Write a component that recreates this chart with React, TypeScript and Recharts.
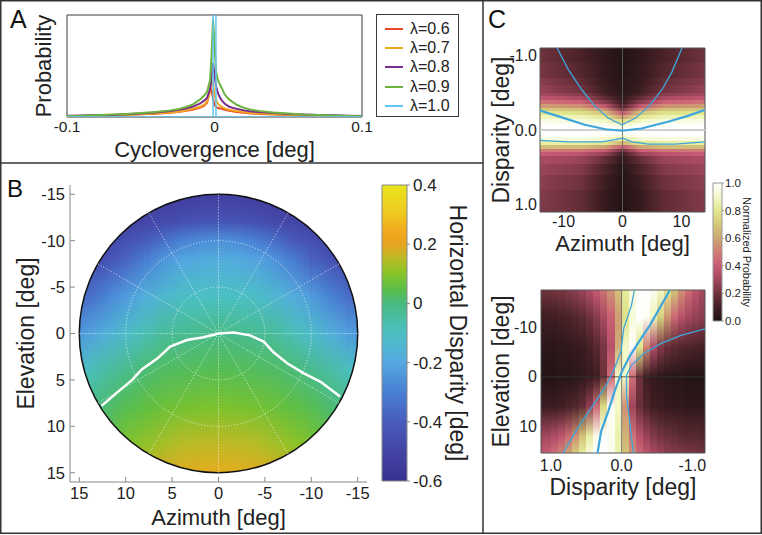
import React from 'react';
import {
  LineChart, Line, XAxis, YAxis, Legend, ReferenceArea, ReferenceLine,
  ScatterChart, Scatter, Label,
} from 'recharts';

const FONT = '"Liberation Sans", Arial, Helvetica, sans-serif';
const TXT = '#222';

// ---------------- Panel A data ----------------
const cycloX = [-0.1, -0.09, -0.08, -0.07, -0.06, -0.05, -0.04, -0.03, -0.025, -0.02, -0.015, -0.01, -0.007, -0.005, -0.003, -0.002, -0.001, 0, 0.001, 0.002, 0.003, 0.005, 0.007, 0.01, 0.015, 0.02, 0.025, 0.03, 0.04, 0.05, 0.06, 0.07, 0.08, 0.09, 0.1];
const lam06 = [0.008, 0.01, 0.013, 0.017, 0.021, 0.026, 0.033, 0.042, 0.05, 0.058, 0.072, 0.09, 0.11, 0.14, 0.28, 0.26, 0.18, 0.12, 0.1, 0.09, 0.085, 0.08, 0.07, 0.06, 0.05, 0.042, 0.035, 0.03, 0.024, 0.02, 0.015, 0.012, 0.01, 0.008, 0.006];
const lam07 = [0.008, 0.01, 0.013, 0.018, 0.022, 0.028, 0.035, 0.045, 0.052, 0.062, 0.08, 0.1, 0.12, 0.15, 0.25, 0.36, 0.33, 0.22, 0.17, 0.14, 0.12, 0.1, 0.085, 0.07, 0.058, 0.048, 0.04, 0.035, 0.027, 0.022, 0.017, 0.013, 0.01, 0.008, 0.006];
const lam08 = [0.012, 0.014, 0.016, 0.02, 0.027, 0.035, 0.045, 0.058, 0.068, 0.08, 0.1, 0.13, 0.16, 0.19, 0.27, 0.38, 0.53, 0.42, 0.3, 0.25, 0.21, 0.16, 0.13, 0.1, 0.08, 0.065, 0.055, 0.048, 0.038, 0.03, 0.024, 0.02, 0.016, 0.012, 0.01];
const lam09 = [0.01, 0.012, 0.018, 0.025, 0.03, 0.04, 0.05, 0.065, 0.075, 0.095, 0.12, 0.17, 0.21, 0.25, 0.36, 0.6, 0.96, 0.72, 0.45, 0.38, 0.34, 0.28, 0.22, 0.17, 0.12, 0.09, 0.07, 0.06, 0.045, 0.035, 0.025, 0.02, 0.015, 0.01, 0.008];
const lam10 = [0, 0, 0, 0, 0, 0, 0, 0, 0, 0, 0, 0, 0, 0, 0, 0, 0, 50, 0, 0, 0, 0, 0, 0, 0, 0, 0, 0, 0, 0, 0, 0, 0, 0, 0];
const aSeriesKeys = ['l06', 'l07', 'l08', 'l09', 'l10'];
const aSeriesNames = ['λ=0.6', 'λ=0.7', 'λ=0.8', 'λ=0.9', 'λ=1.0'];
const aSeriesColors = ['#e8472b', '#f2a81d', '#7a2c8f', '#6cb33f', '#62c6f2'];
const aSeriesWidths = [2, 2, 2, 2, 1.5];
const aTicks = [-0.1, 0, 0.1];
const aData = cycloX.map((x, i) => ({ x, l06: lam06[i], l07: lam07[i], l08: lam08[i], l09: lam09[i], l10: lam10[i] }));

// ---------------- Panel B data ----------------
const bAzCols = [-16, -14, -12, -10, -8, -6, -4, -2, 0, 2, 4, 6, 8, 10, 12, 14, 16];
const bElStops = [-16, -14, -12, -10, -8, -4, 0, 4, 8, 12, 16];
const bDisparity = [
  [-0.58, -0.57, -0.55, -0.53, -0.50, -0.39, -0.26, -0.13, -0.04, 0.00, 0.05],
  [-0.58, -0.56, -0.54, -0.51, -0.48, -0.35, -0.22, -0.09, -0.01, 0.03, 0.08],
  [-0.58, -0.55, -0.53, -0.49, -0.44, -0.29, -0.17, -0.05, 0.015, 0.06, 0.12],
  [-0.57, -0.54, -0.51, -0.45, -0.38, -0.23, -0.12, -0.02, 0.04, 0.09, 0.15],
  [-0.56, -0.53, -0.49, -0.41, -0.31, -0.18, -0.08, 0.01, 0.055, 0.11, 0.18],
  [-0.55, -0.52, -0.47, -0.35, -0.25, -0.14, -0.04, 0.025, 0.07, 0.13, 0.20],
  [-0.54, -0.51, -0.45, -0.30, -0.21, -0.11, -0.03, 0.03, 0.08, 0.15, 0.22],
  [-0.53, -0.50, -0.43, -0.27, -0.19, -0.10, -0.02, 0.035, 0.085, 0.155, 0.23],
  [-0.53, -0.50, -0.42, -0.26, -0.18, -0.10, -0.01, 0.04, 0.09, 0.16, 0.24],
  [-0.53, -0.50, -0.43, -0.27, -0.19, -0.10, -0.02, 0.035, 0.085, 0.155, 0.23],
  [-0.54, -0.51, -0.45, -0.30, -0.21, -0.11, -0.03, 0.03, 0.08, 0.15, 0.22],
  [-0.55, -0.52, -0.47, -0.35, -0.25, -0.14, -0.04, 0.025, 0.07, 0.13, 0.20],
  [-0.56, -0.53, -0.49, -0.41, -0.31, -0.18, -0.08, 0.01, 0.055, 0.11, 0.18],
  [-0.57, -0.54, -0.51, -0.45, -0.38, -0.23, -0.12, -0.02, 0.04, 0.09, 0.15],
  [-0.58, -0.55, -0.53, -0.49, -0.44, -0.29, -0.17, -0.05, 0.015, 0.06, 0.12],
  [-0.58, -0.56, -0.54, -0.51, -0.48, -0.35, -0.22, -0.09, -0.01, 0.03, 0.08],
  [-0.58, -0.57, -0.55, -0.53, -0.50, -0.39, -0.26, -0.13, -0.04, 0.00, 0.05],
];
const bContour = [
  { x: 12.6, y: 7.8 }, { x: 11.1, y: 6.5 }, { x: 9.3, y: 5.0 }, { x: 8.3, y: 3.9 }, { x: 6.6, y: 2.7 },
  { x: 5.2, y: 1.4 }, { x: 3.4, y: 0.7 }, { x: 1.6, y: 0.4 }, { x: 0, y: 0 }, { x: -1.6, y: -0.1 },
  { x: -3.4, y: 0.2 }, { x: -4.9, y: 0.9 }, { x: -5.9, y: 2.0 }, { x: -7.4, y: 3.2 }, { x: -9.2, y: 4.3 },
  { x: -11.0, y: 5.2 }, { x: -13.1, y: 6.8 },
];
const bTicks = [-15, -10, -5, 0, 5, 10, 15];
const bCbarTicks = [-0.6, -0.4, -0.2, 0, 0.2, 0.4];
const bGridRadii = [5, 10];
const bSpokeAngles = [0, 30, 60, 90, 120, 150, 180, 210, 240, 270, 300, 330];
const bRadius = 15;

// ---------------- Panel C (top) data ----------------
const cTopAzStops = [-14, -7, -3, 0, 3, 7, 14];
const cTopRowEdges = [-1.1, -0.9, -0.7, -0.6, -0.5, -0.45, -0.4, -0.35, -0.3, -0.25, -0.2, -0.15, -0.1, -0.05, 0, 0.05, 0.1, 0.15, 0.2, 0.25, 0.3, 0.35, 0.45, 0.6, 0.8, 1.1];
const cTopValues = [
  [0.2, 0.12, 0.05, 0.02, 0.05, 0.12, 0.2],
  [0.22, 0.14, 0.06, 0.02, 0.06, 0.14, 0.22],
  [0.25, 0.17, 0.07, 0.03, 0.07, 0.17, 0.25],
  [0.28, 0.2, 0.09, 0.03, 0.09, 0.2, 0.28],
  [0.32, 0.25, 0.12, 0.04, 0.12, 0.25, 0.32],
  [0.38, 0.32, 0.17, 0.05, 0.17, 0.32, 0.38],
  [0.47, 0.42, 0.25, 0.08, 0.25, 0.42, 0.47],
  [0.58, 0.54, 0.38, 0.13, 0.38, 0.54, 0.58],
  [0.7, 0.67, 0.54, 0.24, 0.54, 0.67, 0.7],
  [0.8, 0.78, 0.68, 0.4, 0.68, 0.78, 0.8],
  [0.88, 0.87, 0.8, 0.58, 0.8, 0.87, 0.88],
  [0.95, 0.94, 0.9, 0.76, 0.9, 0.94, 0.95],
  [0.99, 0.99, 0.97, 0.9, 0.97, 0.99, 0.99],
  [1, 1, 1, 0.97, 1, 1, 1],
  [1, 1, 1, 0.99, 1, 1, 1],
  [0.99, 0.99, 0.98, 0.94, 0.98, 0.99, 0.99],
  [0.94, 0.94, 0.92, 0.84, 0.92, 0.94, 0.94],
  [0.84, 0.84, 0.8, 0.64, 0.8, 0.84, 0.84],
  [0.67, 0.66, 0.6, 0.4, 0.6, 0.66, 0.67],
  [0.5, 0.48, 0.41, 0.21, 0.41, 0.48, 0.5],
  [0.4, 0.37, 0.28, 0.1, 0.28, 0.37, 0.4],
  [0.33, 0.29, 0.18, 0.05, 0.18, 0.29, 0.33],
  [0.29, 0.24, 0.12, 0.03, 0.12, 0.24, 0.29],
  [0.26, 0.2, 0.09, 0.02, 0.09, 0.2, 0.26],
  [0.24, 0.17, 0.07, 0.02, 0.07, 0.17, 0.24],
];
const cTopLineUpper = [
  { x: -11.1, y: -1.1 }, { x: -9.2, y: -0.81 }, { x: -6.9, y: -0.54 }, { x: -4.6, y: -0.31 }, { x: -2.4, y: -0.16 },
  { x: -0.1, y: -0.07 }, { x: 2.2, y: -0.16 }, { x: 4.4, y: -0.31 }, { x: 6.7, y: -0.54 }, { x: 8.4, y: -0.78 }, { x: 10.1, y: -1.1 },
];
const cTopLineMid = [
  { x: -14, y: -0.26 }, { x: -10.3, y: -0.17 }, { x: -6.4, y: -0.07 }, { x: -2.9, y: -0.01 }, { x: -0.1, y: 0.01 },
  { x: 3.2, y: -0.02 }, { x: 7.7, y: -0.11 }, { x: 11.1, y: -0.19 }, { x: 14, y: -0.27 },
];
const cTopLineLower = [
  { x: -14, y: 0.14 }, { x: -9.2, y: 0.16 }, { x: -3.5, y: 0.16 }, { x: -1.2, y: 0.13 }, { x: 0, y: 0.11 },
  { x: 1.6, y: 0.16 }, { x: 4.4, y: 0.19 }, { x: 8.9, y: 0.19 }, { x: 14, y: 0.16 },
];
const cTopYTicks = [-1, 0, 1];
const cTopXTicks = [-10, 0, 10];

// ---------------- Panel C (bottom) data ----------------
const cBotDispCols = [1.15, 1.05, 0.95, 0.85, 0.75, 0.65, 0.55, 0.45, 0.35, 0.25, 0.15, 0.05, -0.05, -0.15, -0.25, -0.35, -0.45, -0.55, -0.65, -0.75, -0.85, -0.95, -1.05, -1.15];
const cBotElStops = [-17.4, -12, -6, 0, 6, 12, 15.3];
const cBotValues = [
  [0.20, 0.20, 0.21, 0.22, 0.24, 0.26, 0.29, 0.34, 0.40, 0.47, 0.56, 0.68, 0.82, 0.93, 0.99, 1.00, 0.97, 0.90, 0.80, 0.68, 0.55, 0.45, 0.37, 0.31],
  [0.09, 0.10, 0.10, 0.11, 0.12, 0.14, 0.16, 0.20, 0.25, 0.32, 0.42, 0.58, 0.78, 0.93, 1.00, 0.98, 0.88, 0.72, 0.56, 0.44, 0.36, 0.31, 0.28, 0.26],
  [0.04, 0.04, 0.04, 0.05, 0.06, 0.07, 0.08, 0.11, 0.15, 0.22, 0.36, 0.62, 0.90, 0.99, 0.80, 0.52, 0.34, 0.24, 0.19, 0.16, 0.14, 0.13, 0.12, 0.11],
  [0.02, 0.02, 0.02, 0.03, 0.03, 0.04, 0.05, 0.07, 0.10, 0.20, 0.45, 0.90, 0.90, 0.45, 0.20, 0.10, 0.07, 0.05, 0.04, 0.03, 0.03, 0.02, 0.02, 0.02],
  [0.08, 0.09, 0.09, 0.10, 0.12, 0.14, 0.18, 0.27, 0.45, 0.75, 0.98, 0.90, 0.55, 0.30, 0.19, 0.13, 0.10, 0.08, 0.07, 0.06, 0.06, 0.05, 0.05, 0.05],
  [0.30, 0.31, 0.34, 0.38, 0.45, 0.55, 0.68, 0.84, 0.96, 1.00, 0.97, 0.85, 0.64, 0.47, 0.36, 0.29, 0.24, 0.21, 0.19, 0.18, 0.16, 0.15, 0.15, 0.14],
  [0.38, 0.41, 0.46, 0.52, 0.60, 0.70, 0.82, 0.93, 0.99, 1.00, 0.96, 0.86, 0.68, 0.54, 0.44, 0.37, 0.32, 0.29, 0.26, 0.24, 0.23, 0.22, 0.21, 0.20],
];
const cBotLineMid = [
  { x: -0.68, y: -17.3 }, { x: -0.56, y: -14.3 }, { x: -0.4, y: -10.3 }, { x: -0.23, y: -6.7 }, { x: -0.11, y: -4 },
  { x: 0, y: -0.9 }, { x: 0.1, y: 3 }, { x: 0.19, y: 7 }, { x: 0.29, y: 11 }, { x: 0.34, y: 15.3 },
];
const cBotLineLeft = [
  { x: -0.18, y: -17.3 }, { x: -0.14, y: -14.3 }, { x: -0.03, y: -9.7 }, { x: 0.01, y: -5 }, { x: 0.12, y: -1 },
  { x: 0.24, y: 2.3 }, { x: 0.43, y: 6.3 }, { x: 0.62, y: 10.3 }, { x: 0.83, y: 15.3 },
];
const cBotLineRight = [
  { x: -1.18, y: -9.6 }, { x: -0.84, y: -8.3 }, { x: -0.56, y: -6.7 }, { x: -0.32, y: -4.7 }, { x: -0.14, y: -2.3 },
  { x: -0.07, y: -0.3 }, { x: -0.07, y: 3.7 }, { x: -0.11, y: 8.3 }, { x: -0.14, y: 12.3 }, { x: -0.17, y: 15.3 },
];
const cBotXTicks = [1, 0, -1];
const cBotYTicks = [-10, 0, 10];
const cBarTicks = [0, 0.2, 0.4, 0.6, 0.8, 1];

// ---------------- colour maps (style) ----------------
const parulaStops = [
  [-0.6, 55, 50, 145], [-0.5, 68, 68, 165], [-0.4, 72, 92, 188], [-0.3, 72, 128, 212], [-0.2, 85, 168, 225],
  [-0.1, 75, 192, 195], [0, 72, 186, 128], [0.05, 92, 190, 70], [0.1, 135, 196, 40], [0.15, 185, 188, 38],
  [0.2, 232, 163, 32], [0.25, 242, 172, 30], [0.3, 240, 200, 32], [0.4, 232, 228, 28],
];
const pinkStops = [
  [0, 28, 18, 18], [0.1, 65, 30, 35], [0.2, 110, 50, 60], [0.3, 160, 70, 92], [0.4, 200, 90, 116],
  [0.5, 208, 125, 118], [0.6, 205, 165, 115], [0.7, 212, 202, 122], [0.8, 226, 232, 142], [0.9, 243, 248, 200], [1, 255, 255, 255],
];
const cmap = (stops: number[][], v: number) => {
  const rgb = (a: number[]) => `rgb(${Math.round(a[1])},${Math.round(a[2])},${Math.round(a[3])})`;
  if (v <= stops[0][0]) return rgb(stops[0]);
  for (let i = 1; i < stops.length; i++) {
    if (v <= stops[i][0]) {
      const a = stops[i - 1];
      const b = stops[i];
      const t = (v - a[0]) / (b[0] - a[0]);
      return rgb([0, a[1] + (b[1] - a[1]) * t, a[2] + (b[2] - a[2]) * t, a[3] + (b[3] - a[3]) * t]);
    }
  }
  return rgb(stops[stops.length - 1]);
};

// ---------------- shapes ----------------
const noDot = () => <g />;
const cellShape = (props: any) => (
  <rect x={props.x} y={props.y} width={props.width} height={props.height} fill={props.fill}
    stroke="none" shapeRendering="crispEdges" clipPath={props.clipPath} />
);
const circleCellShape = (props: any) => (
  <rect x={props.x} y={props.y} width={props.width} height={props.height} fill={props.fill}
    stroke="none" shapeRendering="crispEdges" clipPath="url(#bClipCircle)" />
);
const circleRampShape = (props: any) => (
  <rect x={props.x} y={props.y} width={props.width} height={props.height} fill={props.fill}
    stroke="none" shapeRendering="crispEdges" clipPath="url(#bClipCircle)" mask="url(#bRampMask)" />
);
const clipDefShape = (props: any) => (
  <defs>
    <clipPath id="bClipCircle">
      <ellipse cx={props.x + props.width / 2} cy={props.y + props.height / 2} rx={props.width / 2} ry={props.height / 2} />
    </clipPath>
  </defs>
);
const ellipseShape = (stroke: string, sw: number, dash?: string) => (props: any) => (
  <ellipse cx={props.x + props.width / 2} cy={props.y + props.height / 2} rx={props.width / 2} ry={props.height / 2}
    fill="none" stroke={stroke} strokeWidth={sw} strokeDasharray={dash} />
);

const Gradients = () => {
  const bEl0 = bElStops[0];
  const bEl1 = bElStops[bElStops.length - 1];
  const cEl0 = cBotElStops[0];
  const cEl1 = cBotElStops[cBotElStops.length - 1];
  const az0 = cTopAzStops[0];
  const az1 = cTopAzStops[cTopAzStops.length - 1];
  const parRev = [...parulaStops].reverse();
  const pinkRev = [...pinkStops].reverse();
  return (
    <svg width={0} height={0} style={{ position: 'absolute' }}>
      <defs>
        {bAzCols.map((az, i) => (
          <linearGradient key={`b${i}`} id={`bcol${i}`} x1="0" y1="0" x2="0" y2="1">
            {bElStops.map((el, k) => (
              <stop key={k} offset={(el - bEl0) / (bEl1 - bEl0)} stopColor={cmap(parulaStops, bDisparity[i][k])} />
            ))}
          </linearGradient>
        ))}
        <linearGradient id="bRampGrad" x1="0" y1="0" x2="1" y2="0">
          <stop offset={0} stopColor="#fff" />
          <stop offset={1} stopColor="#000" />
        </linearGradient>
        <mask id="bRampMask" maskUnits="objectBoundingBox" maskContentUnits="objectBoundingBox" x="0" y="0" width="1" height="1">
          <rect x={0} y={0} width={1} height={1} fill="url(#bRampGrad)" />
        </mask>
        <linearGradient id="bbar" x1="0" y1="0" x2="0" y2="1">
          {parRev.map((s, k) => (
            <stop key={k} offset={(0.4 - s[0]) / 1.0} stopColor={cmap(parulaStops, s[0])} />
          ))}
        </linearGradient>
        {cTopValues.map((row, i) => (
          <linearGradient key={`ct${i}`} id={`ctop${i}`} x1="0" y1="0" x2="1" y2="0">
            {cTopAzStops.map((az, k) => (
              <stop key={k} offset={(az - az0) / (az1 - az0)} stopColor={cmap(pinkStops, row[k])} />
            ))}
          </linearGradient>
        ))}
        {cBotDispCols.map((d, j) => (
          <linearGradient key={`cb${j}`} id={`cbot${j}`} x1="0" y1="0" x2="0" y2="1">
            {cBotElStops.map((el, k) => (
              <stop key={k} offset={(el - cEl0) / (cEl1 - cEl0)} stopColor={cmap(pinkStops, cBotValues[k][j])} />
            ))}
          </linearGradient>
        ))}
        <linearGradient id="cbar" x1="0" y1="0" x2="0" y2="1">
          {pinkRev.map((s, k) => (
            <stop key={k} offset={1 - s[0]} stopColor={cmap(pinkStops, s[0])} />
          ))}
        </linearGradient>
      </defs>
    </svg>
  );
};

// ---------------- panels ----------------
const PanelA = () => (
  <div style={{ position: 'absolute', left: 0, top: 0 }}>
    <LineChart width={483} height={163} data={aData} margin={{ top: 15, right: 121, bottom: 0, left: 20 }}>
      <XAxis dataKey="x" type="number" domain={[-0.1, 0.1]} allowDataOverflow ticks={aTicks} interval={0}
        tickLine={false} axisLine={false} tickSize={0} tickMargin={4} height={46} tick={{ fontSize: 15.5, fill: TXT }}>
        <Label value="Cyclovergence [deg]" position="insideBottom" offset={6} style={{ fontSize: 22, fill: TXT }} />
      </XAxis>
      <YAxis type="number" domain={[0, 1]} allowDataOverflow tick={false} tickLine={false} axisLine={false} width={47}>
        <Label value="Probability" angle={-90} position="insideLeft" offset={23} style={{ fontSize: 22, fill: TXT, textAnchor: 'middle' }} />
      </YAxis>
      {aSeriesKeys.map((k, i) => (
        <Line key={k} dataKey={k} name={aSeriesNames[i]} stroke={aSeriesColors[i]} strokeWidth={aSeriesWidths[i]}
          dot={false} type="linear" isAnimationActive={false} />
      ))}
      <ReferenceArea x1={-0.1} x2={0.1} y1={0} y2={1} fill="none" stroke="#3a3a3a" strokeWidth={1} ifOverflow="visible" />
      <Legend layout="vertical" align="center" verticalAlign="middle"
        wrapperStyle={{ position: 'absolute', left: 376, top: 14, width: 83, height: 103 }}
        content={() => (
          <div style={{ boxSizing: 'border-box', width: 83, height: 103, border: '1px solid #3a3a3a', paddingTop: 4.5, background: '#fff' }}>
            {aSeriesNames.map((n, i) => (
              <div key={n} style={{ display: 'flex', alignItems: 'center', height: 19.2 }}>
                <span style={{ display: 'inline-block', width: 18, height: 0, borderTop: `2.5px solid ${aSeriesColors[i]}`, marginLeft: 8, marginRight: 7 }} />
                <span style={{ fontSize: 16, color: TXT, lineHeight: '16px' }}>{n}</span>
              </div>
            ))}
          </div>
        )}
      />
    </LineChart>
  </div>
);

const PanelB = () => (
  <div style={{ position: 'absolute', left: 0, top: 163 }}>
    <ScatterChart width={380} height={372} margin={{ top: 22, right: 13, bottom: 0, left: 0 }}>
      <XAxis dataKey="x" type="number" domain={[-16, 16]} allowDataOverflow reversed ticks={bTicks} interval={0}
        height={53} tickSize={-5} tickMargin={10} tick={{ fontSize: 16.5, fill: TXT }}
        axisLine={{ stroke: '#888' }} tickLine={{ stroke: '#888' }}>
        <Label value="Azimuth [deg]" position="insideBottom" offset={10} style={{ fontSize: 22, fill: TXT }} />
      </XAxis>
      <XAxis xAxisId="t" orientation="top" dataKey="x" type="number" domain={[-16, 16]} allowDataOverflow reversed
        ticks={bTicks} interval={0} height={0} tickSize={-5} tickFormatter={() => ''}
        axisLine={{ stroke: '#888' }} tickLine={{ stroke: '#888' }} />
      <YAxis dataKey="y" type="number" domain={[-16, 16]} allowDataOverflow reversed ticks={bTicks} interval={0}
        width={70} tickSize={-5} tickMargin={10} tick={{ fontSize: 16.5, fill: TXT }}
        axisLine={{ stroke: '#888' }} tickLine={{ stroke: '#888' }}>
        <Label value="Elevation [deg]" angle={-90} position="insideLeft" offset={26} style={{ fontSize: 23, fill: TXT, textAnchor: 'middle' }} />
      </YAxis>
      <YAxis yAxisId="r" orientation="right" dataKey="y" type="number" domain={[-16, 16]} allowDataOverflow reversed
        ticks={bTicks} interval={0} width={0} tickSize={-5} tickFormatter={() => ''}
        axisLine={{ stroke: '#888' }} tickLine={{ stroke: '#888' }} />
      <ReferenceArea x1={-bRadius} x2={bRadius} y1={-bRadius} y2={bRadius} ifOverflow="visible" shape={clipDefShape} />
      {bAzCols.slice(0, -1).map((az, i) => (
        <ReferenceArea key={`bb${i}`} x1={az} x2={bAzCols[i + 1]} y1={bElStops[0]} y2={bElStops[bElStops.length - 1]}
          ifOverflow="visible" fill={`url(#bcol${i})`} shape={circleCellShape} />
      ))}
      {bAzCols.slice(1).map((az, i) => (
        <ReferenceArea key={`bo${i}`} x1={bAzCols[i]} x2={az} y1={bElStops[0]} y2={bElStops[bElStops.length - 1]}
          ifOverflow="visible" fill={`url(#bcol${i + 1})`} shape={circleRampShape} />
      ))}
      {bGridRadii.map((r) => (
        <ReferenceArea key={`gr${r}`} x1={-r} x2={r} y1={-r} y2={r} ifOverflow="visible"
          shape={ellipseShape('rgba(255,255,255,0.75)', 1, '1 2')} />
      ))}
      {bSpokeAngles.map((a) => (
        <ReferenceLine key={`sp${a}`} segment={[{ x: 0, y: 0 }, { x: bRadius * Math.cos((a * Math.PI) / 180), y: bRadius * Math.sin((a * Math.PI) / 180) }]}
          stroke="rgba(255,255,255,0.75)" strokeWidth={1} strokeDasharray="1 2" ifOverflow="visible" />
      ))}
      <Scatter data={bContour} line={{ stroke: '#ffffff', strokeWidth: 2.5 }} lineType="joint" shape={noDot} isAnimationActive={false} />
      <ReferenceArea x1={-bRadius} x2={bRadius} y1={-bRadius} y2={bRadius} ifOverflow="visible" shape={ellipseShape('#111', 1.5)} />
    </ScatterChart>
  </div>
);

const PanelBBar = () => (
  <div style={{ position: 'absolute', left: 340, top: 163 }}>
    <ScatterChart width={143} height={372} margin={{ top: 22, right: 0, bottom: 54, left: 42 }}>
      <XAxis dataKey="x" type="number" domain={[0, 1]} allowDataOverflow hide />
      <YAxis dataKey="y" type="number" orientation="right" domain={[-0.6, 0.4]} allowDataOverflow ticks={bCbarTicks} interval={0}
        width={76} tickSize={3} tickMargin={3} axisLine={false} tickLine={{ stroke: '#888' }} tick={{ fontSize: 17, fill: TXT }}>
        <Label value="Horizontal Disparity [deg]" angle={90} position="insideRight" offset={25} style={{ fontSize: 23, fill: TXT, textAnchor: 'middle' }} />
      </YAxis>
      <ReferenceArea x1={0} x2={1} y1={-0.6} y2={0.4} ifOverflow="visible" fill="url(#bbar)" fillOpacity={1} stroke="#888" strokeWidth={1} />
    </ScatterChart>
  </div>
);

const PanelCTop = () => (
  <div style={{ position: 'absolute', left: 483, top: 0 }}>
    <ScatterChart width={230} height={270} margin={{ top: 48, right: 8, bottom: 0, left: 0 }}>
      <XAxis dataKey="x" type="number" domain={[-14, 14]} allowDataOverflow ticks={cTopXTicks} interval={0}
        height={58} tickSize={0} tickMargin={4} axisLine={false} tickLine={false} tick={{ fontSize: 16, fill: TXT }}>
        <Label value="Azimuth [deg]" position="insideBottom" offset={19} style={{ fontSize: 22, fill: TXT }} />
      </XAxis>
      <YAxis dataKey="y" type="number" domain={[-1.1, 1.1]} allowDataOverflow reversed ticks={cTopYTicks} interval={0}
        width={57} tickSize={0} tickMargin={3} axisLine={false} tickLine={false} tick={{ fontSize: 16, fill: TXT }}
        tickFormatter={(v: number) => v.toFixed(1)}>
        <Label value="Disparity [deg]" angle={-90} position="insideLeft" offset={18} style={{ fontSize: 23, fill: TXT, textAnchor: 'middle' }} />
      </YAxis>
      {cTopValues.map((row, i) => (
        <ReferenceArea key={`ct${i}`} x1={cTopAzStops[0]} x2={cTopAzStops[cTopAzStops.length - 1]}
          y1={cTopRowEdges[i]} y2={cTopRowEdges[i + 1]} ifOverflow="hidden" fill={`url(#ctop${i})`} shape={cellShape} />
      ))}
      <ReferenceLine y={0} stroke="#cfcfcf" strokeWidth={2} />
      <ReferenceLine x={0} stroke="#666" strokeOpacity={0.8} strokeWidth={1} />
      <Scatter data={cTopLineUpper} line={{ stroke: '#3ea6dd', strokeWidth: 1.3 }} lineType="joint" shape={noDot} isAnimationActive={false} />
      <Scatter data={cTopLineMid} line={{ stroke: '#3ea6dd', strokeWidth: 2.2 }} lineType="joint" shape={noDot} isAnimationActive={false} />
      <Scatter data={cTopLineLower} line={{ stroke: '#3ea6dd', strokeWidth: 1.3 }} lineType="joint" shape={noDot} isAnimationActive={false} />
      <ReferenceArea x1={-14} x2={14} y1={-1.1} y2={1.1} ifOverflow="visible" fill="none" stroke="#555" strokeWidth={1} />
    </ScatterChart>
  </div>
);

const PanelCBar = () => (
  <div style={{ position: 'absolute', left: 705, top: 163 }}>
    <ScatterChart width={57} height={170} margin={{ top: 20, right: 0, bottom: 12, left: 8 }}>
      <XAxis dataKey="x" type="number" domain={[0, 1]} allowDataOverflow hide />
      <YAxis dataKey="y" type="number" orientation="right" domain={[0, 1]} allowDataOverflow ticks={cBarTicks} interval={0}
        width={40} tickSize={2} tickMargin={1} axisLine={false} tickLine={{ stroke: '#999' }} tick={{ fontSize: 11.5, fill: TXT }}
        tickFormatter={(v: number) => v.toFixed(1)}>
        <Label value="Normalized Probability" angle={90} position="insideRight" offset={15.5} style={{ fontSize: 11, fill: TXT, textAnchor: 'middle' }} />
      </YAxis>
      <ReferenceArea x1={0} x2={1} y1={0} y2={1} ifOverflow="visible" fill="url(#cbar)" fillOpacity={1} stroke="#999" strokeWidth={1} />
    </ScatterChart>
  </div>
);

const PanelCBottom = () => (
  <div style={{ position: 'absolute', left: 483, top: 270 }}>
    <ScatterChart width={230} height={265} margin={{ top: 20, right: 8, bottom: 0, left: 0 }}>
      <XAxis dataKey="x" type="number" domain={[-1.18, 1.14]} allowDataOverflow reversed ticks={cBotXTicks} interval={0}
        height={82} tickSize={0} tickMargin={7} axisLine={false} tickLine={false} tick={{ fontSize: 16, fill: TXT }}
        tickFormatter={(v: number) => v.toFixed(1)}>
        <Label value="Disparity [deg]" position="insideBottom" offset={40} style={{ fontSize: 23, fill: TXT }} />
      </XAxis>
      <YAxis dataKey="y" type="number" domain={[-17.4, 15.3]} allowDataOverflow reversed ticks={cBotYTicks} interval={0}
        width={58} tickSize={0} tickMargin={4} axisLine={false} tickLine={false} tick={{ fontSize: 16, fill: TXT }}>
        <Label value="Elevation [deg]" angle={-90} position="insideLeft" offset={18} style={{ fontSize: 23, fill: TXT, textAnchor: 'middle' }} />
      </YAxis>
      {cBotDispCols.map((d, j) => (
        <ReferenceArea key={`cb${j}`} x1={d - 0.05} x2={d + 0.05} y1={cBotElStops[0]} y2={cBotElStops[cBotElStops.length - 1]}
          ifOverflow="hidden" fill={`url(#cbot${j})`} shape={cellShape} />
      ))}
      <ReferenceLine x={0} stroke="#777" strokeOpacity={0.9} strokeWidth={1} />
      <ReferenceLine y={0} stroke="#333" strokeOpacity={0.55} strokeWidth={1.5} />
      <Scatter data={cBotLineLeft} line={{ stroke: '#3ea6dd', strokeWidth: 1.3 }} lineType="joint" shape={noDot} isAnimationActive={false} />
      <Scatter data={cBotLineMid} line={{ stroke: '#3ea6dd', strokeWidth: 2.2 }} lineType="joint" shape={noDot} isAnimationActive={false} />
      <Scatter data={cBotLineRight} line={{ stroke: '#3ea6dd', strokeWidth: 1.3 }} lineType="joint" shape={noDot} isAnimationActive={false} />
      <ReferenceArea x1={-1.18} x2={1.14} y1={-17.4} y2={15.3} ifOverflow="visible" fill="none" stroke="#555" strokeWidth={1} />
    </ScatterChart>
  </div>
);

const Frame = () => (
  <svg width={762} height={535} style={{ position: 'absolute', left: 0, top: 0, pointerEvents: 'none' }}>
    <rect x={0.75} y={0.75} width={760.5} height={532.5} fill="none" stroke="#333" strokeWidth={1.5} />
    <line x1={483} y1={0} x2={483} y2={533} stroke="#333" strokeWidth={1.5} />
    <line x1={0} y1={163} x2={483} y2={163} stroke="#333" strokeWidth={1.5} />
    <text x={10} y={28} fontSize={25} fill="#111" fontFamily={FONT}>A</text>
    <text x={7} y={197} fontSize={24} fill="#111" fontFamily={FONT}>B</text>
    <text x={488} y={28} fontSize={25} fill="#111" fontFamily={FONT}>C</text>
  </svg>
);

export default function App() {
  return (
    <div style={{ position: 'absolute', left: 0, top: 0, width: 762, height: 535, overflow: 'hidden', background: '#fff', fontFamily: FONT }}>
      <Gradients />
      <PanelA />
      <PanelB />
      <PanelBBar />
      <PanelCTop />
      <PanelCBar />
      <PanelCBottom />
      <Frame />
    </div>
  );
}
